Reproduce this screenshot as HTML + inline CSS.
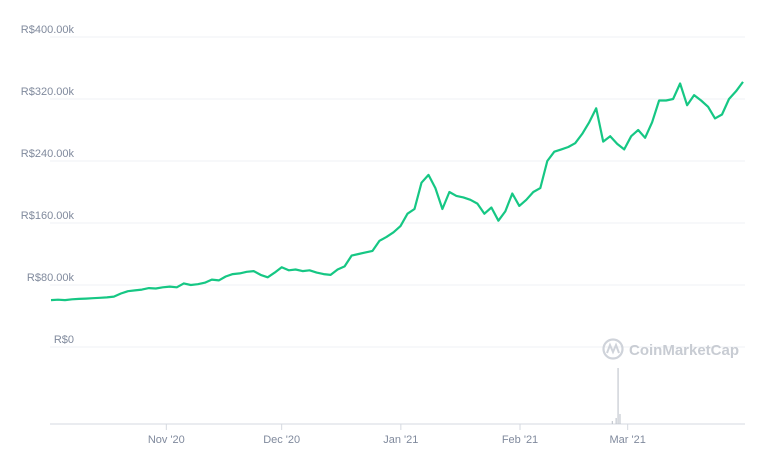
<!DOCTYPE html>
<html><head><meta charset="utf-8"><style>
html,body{margin:0;padding:0;background:#fff;width:768px;height:464px;overflow:hidden}
svg{display:block}
text{font-family:"Liberation Sans",sans-serif}
</style></head><body>
<svg id="chart" width="768" height="464" xmlns="http://www.w3.org/2000/svg">
<g id="grid"></g>
<g id="ylabels"></g>
<g id="xaxis"></g>
<g>
<circle cx="613" cy="349" r="9.5" fill="none" stroke="#cfd3da" stroke-width="2.2"/>
<path d="M607 353 L610 345 L613 352 L616 345 L619 353" fill="none" stroke="#cfd3da" stroke-width="2"/>
<text x="629" y="355" font-size="15" fill="#c8ccd3" font-weight="bold">CoinMarketCap</text>
</g>
<g id="vol"></g>
<path id="line" fill="none" stroke="#16c784" stroke-width="2.2" stroke-linejoin="round"/>
</svg>
<script>
const yTicks=[0,80,160,240,320,400];
const yTickLabels=["R$0","R$80.00k","R$160.00k","R$240.00k","R$320.00k","R$400.00k"];
const xTickDays=[30,60,91,122,150];
const xTickLabels=["Nov '20","Dec '20","Jan '21","Feb '21","Mar '21"];
const prices=[60.5,61,60.5,61.5,62,62.5,63,63.5,64,65,69,72,73,74,76,75.5,77,78,77,82,80,81,83,87,86,91,94,95,97,98,93,90,96,103,99,100,98,99,96,94,93,100,104,118,120,122,124,137,142,148,156,172,178,212,222,205,178,200,195,193,190,185,172,180,163,175,198,182,190,200,205,240,252,255,258,263,275,290,308,265,272,262,255,272,280,270,290,318,318,320,340,312,325,318,310,295,300,320,330,342];
const volDays=[146,147,147.5,148];
const volValues=[3,6,56,10];
const totalDays=180;
const X0=51,X1=743,Y0=347,PXK=62/80;
const yS=v=>Y0-v*PXK;
const xD=d=>X0+d*(X1-X0)/totalDays;
const xI=i=>X0+i*(X1-X0)/(prices.length-1);
const ns="http://www.w3.org/2000/svg";
function mk(t,a,p){const e=document.createElementNS(ns,t);for(const k in a)e.setAttribute(k,a[k]);p.appendChild(e);return e;}
const grid=document.getElementById('grid'),yl=document.getElementById('ylabels'),xa=document.getElementById('xaxis'),vol=document.getElementById('vol');
yTicks.forEach((v,i)=>{
const l=mk('line',{x1:50,x2:745,y1:yS(v),y2:yS(v),stroke:'#eff1f4','stroke-width':1},grid);


const t=mk('text',{x:74,y:yS(v)-4,'text-anchor':'end','font-size':11,fill:'#808a9d'},yl);
t.textContent=yTickLabels[i];


});
const ax=mk('line',{x1:50,x2:745,y1:424,y2:424,stroke:'#d5d9e0','stroke-width':1},xa);


xTickDays.forEach((d,i)=>{
const tk=mk('line',{x1:xD(d),x2:xD(d),y1:424,y2:430,stroke:'#d5d9e0'},xa);


const t=mk('text',{x:xD(d),y:443,'text-anchor':'middle','font-size':11,fill:'#808a9d'},xa);
t.textContent=xTickLabels[i];


});
volDays.forEach((d,i)=>{
const r=mk('rect',{x:xD(d)-0.5,y:424-volValues[i],width:1,height:volValues[i],fill:'#b9bec7'},vol);


});
document.getElementById('line').setAttribute('d',prices.map((v,i)=>(i?'L':'M')+xI(i).toFixed(1)+' '+yS(v).toFixed(1)).join(' '));
</script>
</body></html>
